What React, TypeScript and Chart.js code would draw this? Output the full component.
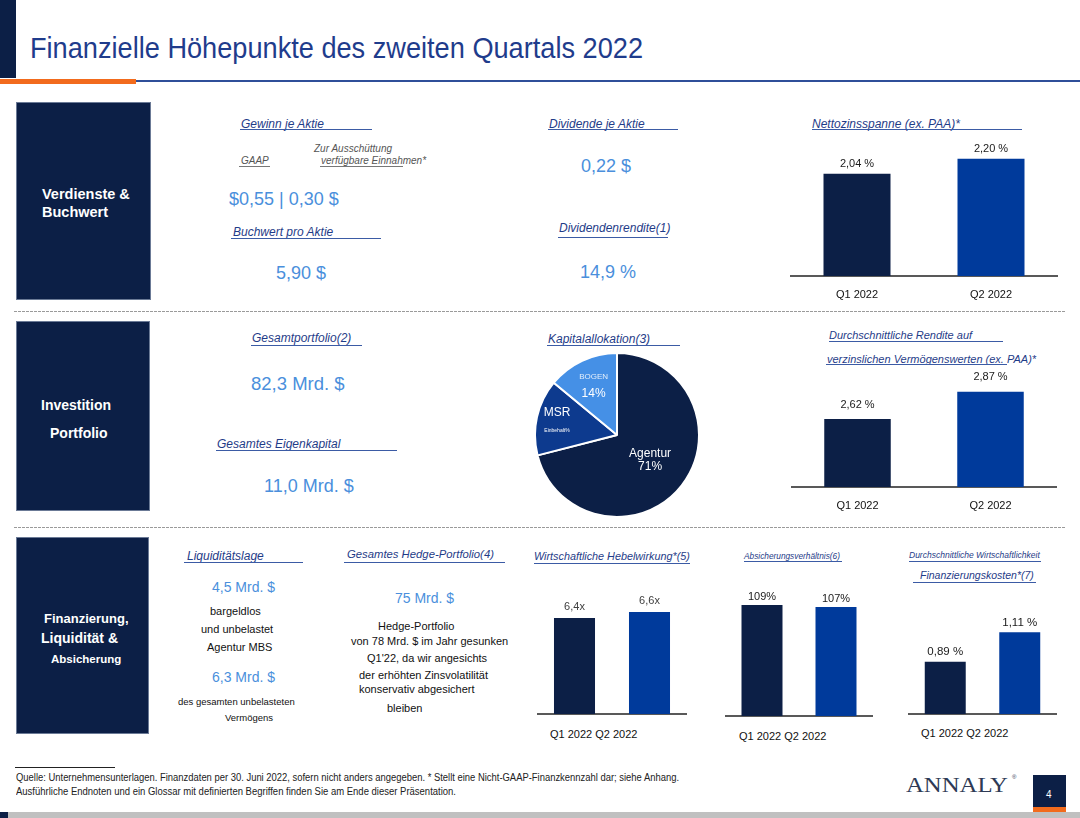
import React, { useEffect, useLayoutEffect, useRef } from 'react';
import { Chart, registerables } from 'chart.js';

Chart.register(...registerables);
Chart.defaults.font.family = '"Liberation Sans", Arial, sans-serif';

// ---------- data ----------
const quarters = ['Q1 2022', 'Q2 2022'];
const netInterestMargin = [2.04, 2.2];
const netInterestMarginLabels = ['2,04 %', '2,20 %'];
const avgYield = [2.62, 2.87];
const avgYieldLabels = ['2,62 %', '2,87 %'];
const economicLeverage = [6.4, 6.6];
const economicLeverageLabels = ['6,4x', '6,6x'];
const hedgeRatio = [109, 107];
const hedgeRatioLabels = ['109%', '107%'];
const fundingCost = [0.89, 1.11];
const fundingCostLabels = ['0,89 %', '1,11 %'];
const allocationNames = ['Agentur', 'MSR', 'BOGEN'];
const allocationValues = [71, 15, 14];
const allocationValueLabels = ['71%', 'Einbehalt%', '14%'];

// ---------- styles ----------
const NAVY = '#0C1F46';
const BLUE = '#003A9B';
const MID = '#0D3A8E';
const LIGHT = '#4590E6';
const HEAD = '#1F3C88';
const VALUE = '#4A8FDC';
const FONT = '"Liberation Sans", Arial, sans-serif';

const barValuePlugin = {
  id: 'barValues',
  afterDatasetsDraw(chart: any, _a: any, opts: any) {
    const ctx = chart.ctx;
    const meta = chart.getDatasetMeta(0);
    ctx.save();
    ctx.font = `${opts.size}px ${FONT}`;
    ctx.fillStyle = opts.color;
    ctx.textAlign = 'center';
    ctx.textBaseline = 'middle';
    meta.data.forEach((el: any, i: number) => {
      ctx.fillText(opts.labels[i], el.x, el.y - opts.offset);
    });
    ctx.restore();
  },
};

const pieStyles = [
  { r: 0.51, name: { size: 12, color: '#ffffff', dy: -6.5 }, value: { size: 12, color: '#ffffff', dy: 6.5 } },
  { r: 0.75, name: { size: 12, color: '#ffffff', dy: -9 }, value: { size: 5, color: '#ffffff', dy: 9 } },
  { r: 0.67, name: { size: 8, color: '#e3eefb', dy: -8 }, value: { size: 12, color: '#ffffff', dy: 8 } },
];

const pieLabelPlugin = {
  id: 'pieLabels',
  afterDatasetsDraw(chart: any) {
    const ctx = chart.ctx;
    const meta = chart.getDatasetMeta(0);
    ctx.save();
    ctx.textAlign = 'center';
    ctx.textBaseline = 'middle';
    meta.data.forEach((el: any, i: number) => {
      const p = el.getProps(['x', 'y', 'startAngle', 'endAngle', 'outerRadius'], true);
      const mid = (p.startAngle + p.endAngle) / 2;
      const st = pieStyles[i];
      const cx = p.x + Math.cos(mid) * p.outerRadius * st.r;
      const cy = p.y + Math.sin(mid) * p.outerRadius * st.r;
      ctx.font = `${st.name.size}px ${FONT}`;
      ctx.fillStyle = st.name.color;
      ctx.fillText(allocationNames[i], cx, cy + st.name.dy);
      ctx.font = `${st.value.size}px ${FONT}`;
      ctx.fillStyle = st.value.color;
      ctx.fillText(allocationValueLabels[i], cx, cy + st.value.dy);
    });
    ctx.restore();
  },
};

type BarProps = {
  left: number; top: number; width: number; areaH: number; axisH: number;
  values: number[]; labels: string[]; yMin: number; yMax: number;
  offset: number; barPct: number; ticks: boolean; labelColor?: string; labelSize?: number;
};

function BarMini(p: BarProps) {
  const ref = useRef<HTMLCanvasElement>(null);
  const h = p.areaH + p.axisH;
  useEffect(() => {
    const chart = new Chart(ref.current as HTMLCanvasElement, {
      type: 'bar',
      data: {
        labels: quarters,
        datasets: [{
          data: p.values,
          backgroundColor: [NAVY, BLUE],
          barPercentage: p.barPct,
          categoryPercentage: 1,
          base: p.yMin,
        } as any],
      },
      options: {
        responsive: false,
        maintainAspectRatio: false,
        animation: false,
        layout: { padding: 0 },
        plugins: {
          legend: { display: false },
          tooltip: { enabled: false },
          barValues: { labels: p.labels, offset: p.offset, color: p.labelColor || '#1a1a1a', size: p.labelSize || 11 },
        } as any,
        scales: {
          x: {
            grid: { display: false, drawTicks: false },
            border: { display: true, color: '#595959', width: 2 },
            ticks: { display: p.ticks, padding: 12, color: '#111111', font: { size: 11 } },
            afterFit: (s: any) => { s.height = p.axisH; },
          },
          y: { display: false, min: p.yMin, max: p.yMax },
        },
      },
      plugins: [barValuePlugin],
    });
    return () => chart.destroy();
  }, []);
  return (
    <canvas
      ref={ref}
      width={p.width}
      height={h}
      style={{ position: 'absolute', left: p.left, top: p.top, width: p.width, height: h }}
    />
  );
}

function AllocationPie() {
  const ref = useRef<HTMLCanvasElement>(null);
  useEffect(() => {
    const chart = new Chart(ref.current as HTMLCanvasElement, {
      type: 'pie',
      data: {
        labels: allocationNames,
        datasets: [{
          data: allocationValues,
          backgroundColor: [NAVY, MID, LIGHT],
          borderColor: '#ffffff',
          borderWidth: 2,
          hoverOffset: 0,
        }],
      },
      options: {
        responsive: false,
        maintainAspectRatio: false,
        animation: false,
        layout: { padding: 0, autoPadding: false } as any,
        plugins: { legend: { display: false }, tooltip: { enabled: false } },
      },
      plugins: [pieLabelPlugin],
    });
    return () => chart.destroy();
  }, []);
  return (
    <canvas ref={ref} width={166} height={166}
      style={{ position: 'absolute', left: 534, top: 352, width: 166, height: 166 }} />
  );
}

function T(props: { x: number; y: number; s: number; c?: string; i?: boolean; b?: boolean; f?: string; children: any }) {
  const { x, y, s, c = '#111111', i = false, b = false, f = FONT } = props;
  return (
    <div style={{
      position: 'absolute', left: x, top: y - 0.49 * s, fontSize: s, lineHeight: `${s}px`,
      color: c, fontStyle: i ? 'italic' : 'normal', fontWeight: b ? 700 : 400,
      whiteSpace: 'nowrap', fontFamily: f,
    }}>{props.children}</div>
  );
}

function Fit(props: { x: number; y: number; s: number; w: number; c: string; f?: string; children: any }) {
  const ref = useRef<HTMLDivElement>(null);
  useLayoutEffect(() => {
    const el = ref.current;
    if (!el) return;
    el.style.transform = 'none';
    const nat = el.getBoundingClientRect().width;
    if (nat > 0) el.style.transform = `scaleX(${props.w / nat})`;
  }, [props.w]);
  return (
    <div ref={ref} style={{
      position: 'absolute', left: props.x, top: props.y - 0.49 * props.s, fontSize: props.s,
      lineHeight: `${props.s}px`, color: props.c, whiteSpace: 'nowrap', fontFamily: props.f || FONT,
      transformOrigin: '0 0',
    }}>{props.children}</div>
  );
}

function U(props: { x0: number; x1: number; y: number; c?: string }) {
  return <div style={{ position: 'absolute', left: props.x0, top: props.y, width: props.x1 - props.x0, height: 0, borderTop: `1px solid ${props.c || '#3B5BA5'}` }} />;
}

function H(props: { x: number; y: number; s: number; u0: number; u1: number; uy: number; children: any }) {
  return (
    <>
      <T x={props.x} y={props.y} s={props.s} c={HEAD} i>{props.children}</T>
      <U x0={props.u0} x1={props.u1} y={props.uy} />
    </>
  );
}

function Rect(props: { x: number; y: number; w: number; h: number; c: string; border?: string }) {
  return <div style={{ position: 'absolute', left: props.x, top: props.y, width: props.w, height: props.h, background: props.c, boxSizing: 'border-box', border: props.border }} />;
}

function Dash(props: { y: number }) {
  return <div style={{
    position: 'absolute', left: 14, top: props.y, width: 1051, height: 1,
    background: 'repeating-linear-gradient(to right, #9a9a9a 0 3px, transparent 3px 4px)',
  }} />;
}

export default function App() {
  return (
    <div style={{ position: 'absolute', left: 0, top: 0, width: 1080, height: 818, background: '#ffffff', overflow: 'hidden', fontFamily: FONT }}>
      {/* header */}
      <Rect x={0} y={0} w={16} h={78} c={NAVY} />
      <Rect x={0} y={79} w={136} h={5} c="#F26B1D" />
      <Rect x={136} y={80} w={944} h={2} c="#2F4F99" />
      <Fit x={30} y={48} s={29} w={613} c="#1F3C8C">Finanzielle Höhepunkte des zweiten Quartals 2022</Fit>

      {/* section boxes */}
      <Rect x={16} y={102} w={135} h={198} c={NAVY} border="1px solid #6b7a96" />
      <Rect x={16} y={321} w={134} h={190} c={NAVY} border="1px solid #6b7a96" />
      <Rect x={16} y={537} w={133} h={197} c={NAVY} border="1px solid #6b7a96" />
      <T x={42} y={194} s={14.5} c="#ffffff" b>Verdienste &amp;</T>
      <T x={42} y={212} s={14.5} c="#ffffff" b>Buchwert</T>
      <T x={41} y={405} s={14} c="#ffffff" b>Investition</T>
      <T x={50} y={433} s={14} c="#ffffff" b>Portfolio</T>
      <T x={44} y={618} s={13} c="#ffffff" b>Finanzierung,</T>
      <T x={41} y={638} s={14} c="#ffffff" b>Liquidität &amp;</T>
      <T x={51} y={660} s={11.5} c="#ffffff" b>Absicherung</T>

      <Dash y={311} />
      <Dash y={527} />

      {/* section 1 */}
      <H x={241} y={124} s={12} u0={240} u1={372} uy={129}>Gewinn je Aktie</H>
      <T x={314} y={149} s={10} c="#555555" i>Zur Ausschüttung</T>
      <T x={241} y={161} s={10} c="#555555" i>GAAP</T>
      <U x0={239} x1={270} y={166} c="#777777" />
      <T x={321} y={161} s={10} c="#555555" i>verfügbare Einnahmen*</T>
      <U x0={320} x1={403} y={166} c="#777777" />
      <T x={229} y={199} s={18} c={VALUE}>$0,55 | 0,30 $</T>
      <H x={233} y={232} s={12} u0={231} u1={381} uy={238}>Buchwert pro Aktie</H>
      <T x={276} y={273} s={18} c={VALUE}>5,90 $</T>
      <H x={549} y={124} s={12} u0={548} u1={678} uy={129}>Dividende je Aktie</H>
      <T x={581} y={166} s={18} c={VALUE}>0,22 $</T>
      <H x={559} y={228} s={12} u0={558} u1={668} uy={237}>Dividendenrendite(1)</H>
      <T x={580} y={272} s={18} c={VALUE}>14,9 %</T>
      <H x={812} y={124} s={12} u0={812} u1={1022} uy={129}>Nettozinsspanne (ex. PAA)*</H>
      <BarMini left={790} top={140} width={268} areaH={136} axisH={30} values={netInterestMargin}
        labels={netInterestMarginLabels} yMin={0.95} yMax={2.4} offset={10} barPct={0.5} ticks />

      {/* section 2 */}
      <H x={252} y={338} s={12} u0={251} u1={362} uy={345}>Gesamtportfolio(2)</H>
      <T x={251} y={384} s={18.5} c={VALUE}>82,3 Mrd. $</T>
      <H x={217} y={444} s={12} u0={216} u1={397} uy={450}>Gesamtes Eigenkapital</H>
      <T x={264} y={486} s={18} c={VALUE}>11,0 Mrd. $</T>
      <H x={548} y={339} s={12} u0={547} u1={680} uy={345}>Kapitalallokation(3)</H>
      <AllocationPie />
      <H x={829} y={335} s={11} u0={829} u1={1003} uy={341}>Durchschnittliche Rendite auf</H>
      <H x={827} y={359} s={11} u0={826} u1={1007} uy={364}>verzinslichen Vermögenswerten (ex. PAA)*</H>
      <BarMini left={791} top={360} width={266} areaH={127} axisH={30} values={avgYield}
        labels={avgYieldLabels} yMin={2.0} yMax={3.16} offset={14.5} barPct={0.5} ticks />

      {/* section 3 */}
      <H x={187} y={556} s={12} u0={184} u1={303} uy={562}>Liquiditätslage</H>
      <T x={212} y={587} s={14} c={VALUE}>4,5 Mrd. $</T>
      <T x={210} y={611} s={11}>bargeldlos</T>
      <T x={201} y={629} s={11}>und unbelastet</T>
      <T x={207} y={647} s={11}>Agentur MBS</T>
      <T x={212} y={677} s={14} c={VALUE}>6,3 Mrd. $</T>
      <T x={178} y={702} s={9.5}>des gesamten unbelasteten</T>
      <T x={225} y={718} s={9.5}>Vermögens</T>

      <H x={347} y={555} s={11.3} u0={344} u1={505} uy={562}>Gesamtes Hedge-Portfolio(4)</H>
      <T x={395} y={598} s={14} c={VALUE}>75 Mrd. $</T>
      <T x={378} y={626} s={11}>Hedge-Portfolio</T>
      <T x={351} y={641} s={11}>von 78 Mrd. $ im Jahr gesunken</T>
      <T x={367} y={658} s={11}>Q1'22, da wir angesichts</T>
      <T x={359} y={675} s={11}>der erhöhten Zinsvolatilität</T>
      <T x={359} y={689} s={11}>konservativ abgesichert</T>
      <T x={387} y={708} s={11}>bleiben</T>

      <H x={534} y={556} s={10.8} u0={534} u1={690} uy={563}>Wirtschaftliche Hebelwirkung*(5)</H>
      <BarMini left={537} top={585} width={150} areaH={129} axisH={4} values={economicLeverage}
        labels={economicLeverageLabels} yMin={3.2} yMax={7.5} offset={11} barPct={0.547} ticks={false} labelColor="#404040" />
      <T x={550} y={734} s={11}>{quarters.join(' ')}</T>

      <H x={744} y={556} s={8.3} u0={744} u1={842} uy={561}>Absicherungsverhältnis(6)</H>
      <BarMini left={725} top={585} width={148} areaH={131} axisH={4} values={hedgeRatio}
        labels={hedgeRatioLabels} yMin={0} yMax={128.6} offset={8} barPct={0.554} ticks={false} />
      <T x={739} y={736} s={11}>{quarters.join(' ')}</T>

      <H x={909} y={555} s={8.5} u0={909} u1={1041} uy={561}>Durchschnittliche Wirtschaftlichkeit</H>
      <H x={920} y={575} s={10.5} u0={913} u1={1036} uy={582}>Finanzierungskosten*(7)</H>
      <BarMini left={908} top={600} width={149} areaH={114} axisH={4} values={fundingCost}
        labels={fundingCostLabels} yMin={0.5} yMax={1.35} offset={9.5} barPct={0.55} ticks={false} labelSize={11.5} />
      <T x={921} y={733} s={11}>{quarters.join(' ')}</T>

      {/* footer */}
      <Rect x={15} y={767} w={100} h={1} c="#222222" />
      <Fit x={16} y={778} s={10} w={663} c="#222222">Quelle: Unternehmensunterlagen. Finanzdaten per 30. Juni 2022, sofern nicht anders angegeben. * Stellt eine Nicht-GAAP-Finanzkennzahl dar; siehe Anhang.</Fit>
      <Fit x={16} y={792} s={10} w={440} c="#222222">Ausführliche Endnoten und ein Glossar mit definierten Begriffen finden Sie am Ende dieser Präsentation.</Fit>
      <Fit x={906} y={785} s={22} w={102} c="#2E3A55" f='"Liberation Serif", "Times New Roman", serif'>ANNALY</Fit>
      <T x={1012} y={777} s={6} c="#2E3A55">®</T>
      <Rect x={1033} y={775} w={33} h={32} c={NAVY} />
      <T x={1046} y={795} s={10} c="#ffffff">4</T>
      <Rect x={1033} y={807} w={33} h={5} c="#F26B1D" />
      <Rect x={0} y={812} w={1080} h={6} c="#C0C0C0" />
      <Rect x={0} y={812} w={8} h={6} c={NAVY} />
    </div>
  );
}
